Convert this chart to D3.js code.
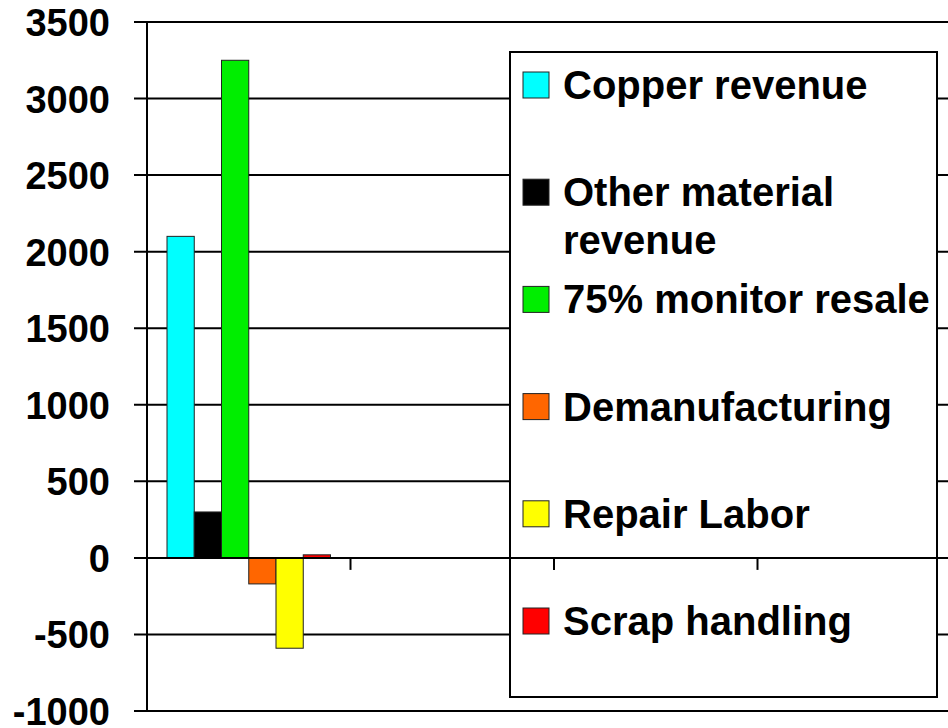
<!DOCTYPE html>
<html>
<head>
<meta charset="utf-8">
<script src="https://cdn.jsdelivr.net/npm/d3@7"></script>
<style>
  body { margin: 0; background: #ffffff; }
  svg { display: block; font-family: "Liberation Sans", Arial, sans-serif; font-weight: bold; }
</style>
</head>
<body>
<div id="chart"></div>
<script>
// chart values
var categories = ["1", "2", "3", "4"];
var seriesNames = ["Copper revenue", "Other material revenue", "75% monitor resale",
    "Demanufacturing", "Repair Labor", "Scrap handling"];
var seriesColours = ["#00ffff", "#000000", "#00ee00", "#ff6600", "#ffff00", "#ff0000"];
// one value per series, only the first category carries data
var seriesValues = [2100, 300, 3250, -170, -590, 20];
var yTicks = [-1000, -500, 0, 500, 1000, 1500, 2000, 2500, 3000, 3500];

var CostChart = {
    init: function(){
        this.width = 948;
        this.height = 728;
        this.svg = d3.select("#chart").append("svg")
            .attr("width", this.width)
            .attr("height", this.height);

        this.x = d3.scaleBand().domain(categories).range([147, 961]);
        this.inner = d3.scaleBand().domain(seriesNames)
            .range([20, this.x.bandwidth() - 20]);
        this.y = d3.scaleLinear().domain([-1000, 3500]).range([711, 22]);

        this.drawGrid();
        this.drawBars();
        this.drawLegend();
        this.drawAxes();
    },

    drawGrid: function(){
        var self = this;
        this.svg.append("g").selectAll("line")
            .data(yTicks)
            .enter().append("line")
            .attr("x1", 134)
            .attr("x2", this.width)
            .attr("y1", function(d){ return self.y(d); })
            .attr("y2", function(d){ return self.y(d); })
            .attr("stroke", "#000")
            .attr("stroke-width", 2);

        this.svg.append("g").selectAll("text")
            .data(yTicks)
            .enter().append("text")
            .attr("x", 110)
            .attr("y", function(d){ return self.y(d) + 14; })
            .attr("text-anchor", "end")
            .attr("font-size", 38)
            .attr("fill", "#000")
            .text(function(d){ return d; });
    },

    drawBars: function(){
        var self = this;
        var x0 = this.x(categories[0]);
        this.svg.append("g").selectAll("rect")
            .data(seriesValues)
            .enter().append("rect")
            .attr("x", function(d, i){ return x0 + self.inner(seriesNames[i]); })
            .attr("width", this.inner.bandwidth())
            .attr("y", function(d){ return self.y(Math.max(0, d)); })
            .attr("height", function(d){ return Math.abs(self.y(d) - self.y(0)); })
            .attr("fill", function(d, i){ return seriesColours[i]; })
            .attr("stroke", "#222")
            .attr("stroke-width", 1);
    },

    drawLegend: function(){
        var legend = this.svg.append("g");
        legend.append("rect")
            .attr("x", 510)
            .attr("y", 52)
            .attr("width", 427)
            .attr("height", 645)
            .attr("fill", "#fff")
            .attr("stroke", "#000")
            .attr("stroke-width", 2);

        //rows are evenly spaced by their first baseline
        var rowY = d3.scaleLinear().domain([0, 1]).range([99, 206.2]);
        seriesNames.forEach(function(name, i){
            var base = rowY(i);
            legend.append("rect")
                .attr("x", 523)
                .attr("y", base - 27)
                .attr("width", 26)
                .attr("height", 26)
                .attr("fill", seriesColours[i])
                .attr("stroke", "#222")
                .attr("stroke-width", 1);

            var text = legend.append("text")
                .attr("x", 563)
                .attr("y", base)
                .attr("font-size", 40)
                .attr("fill", "#000");

            // simple word wrap to fit the legend box
            var words = name.split(" ");
            var line = [];
            var tspan = text.append("tspan").attr("x", 563).attr("y", base);
            var lineNo = 0;
            words.forEach(function(w){
                line.push(w);
                tspan.text(line.join(" "));
                if (tspan.node().getComputedTextLength() > 372 && line.length > 1){
                    line.pop();
                    tspan.text(line.join(" "));
                    line = [w];
                    lineNo++;
                    tspan = text.append("tspan")
                        .attr("x", 563)
                        .attr("y", base + lineNo * 48)
                        .text(w);
                }
            });
        });
    },

    drawAxes: function(){
        var self = this;
        // vertical axis
        this.svg.append("line")
            .attr("x1", 147).attr("x2", 147)
            .attr("y1", this.y(3500)).attr("y2", this.y(-1000))
            .attr("stroke", "#000")
            .attr("stroke-width", 2);

        // zero line with category ticks, drawn over the legend
        this.svg.append("line")
            .attr("x1", 134).attr("x2", this.width)
            .attr("y1", this.y(0)).attr("y2", this.y(0))
            .attr("stroke", "#000")
            .attr("stroke-width", 2);

        this.svg.append("g").selectAll("line")
            .data(categories.slice(1))
            .enter().append("line")
            .attr("x1", function(d){ return self.x(d); })
            .attr("x2", function(d){ return self.x(d); })
            .attr("y1", this.y(0))
            .attr("y2", this.y(0) + 12)
            .attr("stroke", "#000")
            .attr("stroke-width", 2);
    }
};

CostChart.init();
</script>
</body>
</html>
